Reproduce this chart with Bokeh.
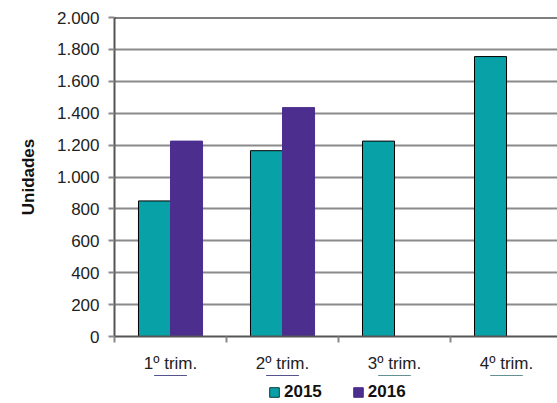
from bokeh.plotting import figure
from bokeh.layouts import column
from bokeh.models import Range1d, FixedTicker, Span, Legend, LegendItem, ColumnDataSource
from bokeh.transform import dodge
from bokeh.embed import file_html
from bokeh.resources import INLINE

categories = ["1º trim.", "2º trim.", "3º trim.", "4º trim."]
values_2015 = [850, 1165, 1225, 1755]
values_2016 = [1225, 1435, float("nan"), float("nan")]
series_names = ["2015", "2016"]
y_ticks = [0, 200, 400, 600, 800, 1000, 1200, 1400, 1600, 1800, 2000]
y_tick_labels = ["0", "200", "400", "600", "800", "1.000", "1.200", "1.400", "1.600", "1.800", "2.000"]

TEAL = "#08A1A7"
PURPLE = "#4B2E8E"
FONT = "Liberation Sans"

centers = [i + 0.5 for i in range(len(categories))]
src = ColumnDataSource(dict(x=centers, v15=values_2015, v16=values_2016))

p = figure(width=557, height=375, output_backend="svg", toolbar_location=None,
           x_range=Range1d(0, 3.955), y_range=Range1d(0, 2000),
           min_border_left=114, min_border_right=0, min_border_top=17, min_border_bottom=39)
p.outline_line_color = None
p.background_fill_color = "white"

p.vbar(x=dodge("x", -0.143, range=p.x_range), top="v15", width=0.286, bottom=0, source=src,
       fill_color=TEAL, line_color="black", line_width=1)
p.vbar(x=dodge("x", 0.143, range=p.x_range), top="v16", width=0.286, bottom=0, source=src,
       fill_color=PURPLE, line_color=PURPLE, line_width=1)

xa = p.xaxis[0]
xa.ticker = FixedTicker(ticks=centers, minor_ticks=[0, 1, 2, 3, 4])
xa.major_label_overrides = {c: lab for c, lab in zip(centers, categories)}
xa.major_tick_line_color = None
xa.major_tick_out = 0
xa.minor_tick_in = 0
xa.minor_tick_out = 6
xa.minor_tick_line_color = "#888888"
xa.minor_tick_line_width = 2
xa.axis_line_color = "#555555"
xa.axis_line_width = 2
xa.major_label_text_font = FONT
xa.major_label_text_font_size = "17px"
xa.major_label_text_color = "#222222"
xa.major_label_standoff = 11

ya = p.yaxis[0]
ya.ticker = FixedTicker(ticks=y_ticks, minor_ticks=[])
ya.major_label_overrides = {t: lab for t, lab in zip(y_ticks, y_tick_labels)}
ya.major_tick_out = 6
ya.major_tick_in = 0
ya.major_tick_line_color = "#888888"
ya.major_tick_line_width = 2
ya.axis_line_color = "#555555"
ya.axis_line_width = 2
ya.major_label_text_font = FONT
ya.major_label_text_font_size = "17px"
ya.major_label_text_color = "#222222"
ya.major_label_standoff = 9
ya.axis_label = "Unidades"
ya.axis_label_text_font = FONT
ya.axis_label_text_font_size = "17px"
ya.axis_label_text_font_style = "bold"
ya.axis_label_text_color = "#111111"
ya.axis_label_standoff = 16

p.xgrid.grid_line_color = None
p.ygrid.grid_line_color = "#8a8a8a"
p.ygrid.grid_line_width = 2

p.add_layout(Span(location=2000, dimension="width", line_color="black", line_width=2))

# legend strip below the chart (its bars lie outside its ranges; only the legend shows)
lg = figure(width=557, height=28, output_backend="svg", toolbar_location=None,
            x_range=Range1d(0, 3.955), y_range=Range1d(-2, -1),
            x_axis_location=None, y_axis_location=None,
            min_border_left=114, min_border_right=0, min_border_top=0, min_border_bottom=0)
lg.outline_line_color = None
lg.xgrid.grid_line_color = None
lg.ygrid.grid_line_color = None
g15 = lg.vbar(x="x", top="v15", bottom=0, width=0.286, source=src,
              fill_color=TEAL, line_color="#0b3b3d", line_width=1)
g16 = lg.vbar(x="x", top="v16", bottom=0, width=0.286, source=src,
              fill_color=PURPLE, line_color=PURPLE, line_width=1)

legend = Legend(items=[LegendItem(label=series_names[0], renderers=[g15]),
                       LegendItem(label=series_names[1], renderers=[g16])],
                orientation="horizontal", location=(154, 1),
                glyph_width=12, glyph_height=12, label_standoff=4, spacing=30,
                padding=0, margin=0, border_line_color=None, background_fill_alpha=0,
                label_text_font=FONT, label_text_font_size="17px", label_text_font_style="bold",
                label_text_color="#111111")
lg.add_layout(legend, "center")

layout = column(p, lg, spacing=0)
open("out.html", "w").write(file_html(layout, INLINE))
